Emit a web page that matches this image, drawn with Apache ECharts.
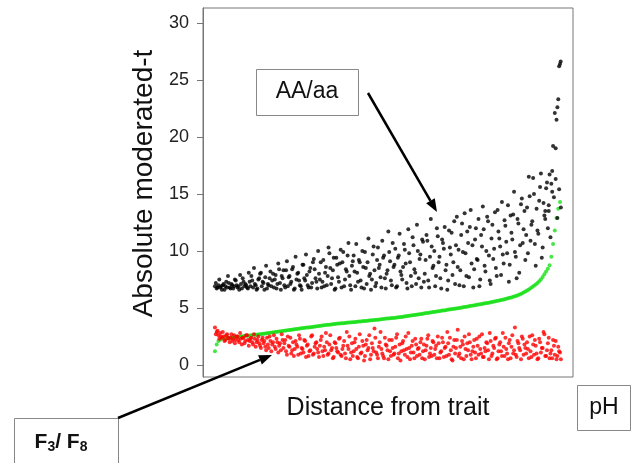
<!DOCTYPE html>
<html>
<head>
<meta charset="utf-8">
<script src="https://cdn.jsdelivr.net/npm/echarts@6/dist/echarts.min.js"></script>
<style>html,body{margin:0;padding:0;background:#fff}#c{width:636px;height:463px}</style>
</head>
<body>
<div id="c"></div>
<script>
// Rank of each gene along "Distance from trait" is its index in the arrays
// (second arrays sit half a rank later).
var blackT = [
6.9,6.7,7.0,6.8,6.6,7.1,6.9,6.8,7.2,6.7,7.0,6.9,7.4,6.8,6.6,7.1,7.6,6.9,7.0,6.7,
7.3,7.8,6.8,7.1,6.6,7.5,8.0,6.9,7.2,7.7,6.7,7.0,8.2,7.4,6.8,7.9,7.1,8.4,6.6,7.6,
7.0,8.3,6.9,7.8,7.3,8.6,6.7,7.5,8.1,7.0,6.6,8.8,7.4,7.9,6.8,8.5,7.2,9.3,7.6,6.7,
8.0,9.0,7.3,6.9,8.6,7.8,9.8,7.1,8.3,6.6,9.4,7.7,8.9,6.8,9.9,7.5,8.2,10.7,7.0,8.7,
9.6,6.9,8.1,9.2,7.4,10.0,6.7,8.5,9.0,7.8,6.6,9.7,8.3,7.2,10.3,8.8,6.8,9.4,7.6,8.0,
11.7,9.1,7.0,8.6,10.2,6.9,9.6,8.2,7.5,10.6,8.9,6.7,9.8,7.8,11.2,8.4,7.1,10.0,9.3,6.8,
10.8,8.0,11.4,7.4,9.5,10.4,8.7,6.9,12.0,9.0,7.6,11.0,10.2,8.3,6.6,11.8,9.7,7.9,12.6,10.5,
8.6,7.0,11.4,9.9,13.3,7.8,10.7,12.1,8.9,6.8,11.0,9.3,12.8,7.5,10.4,11.9,8.2,13.0,9.6,7.1,
12.3,10.2,8.5,13.6,11.1,7.9,9.7,12.7,10.8,14.0,8.8,11.6,13.2,9.9,7.6,12.4,10.5,14.6,11.9,9.2,
13.8,16.5,10.9,12.6,15.0,8.7,11.8,14.4,16.8,10.3,13.1,15.5,12.0,16.7,15.9,19.2,22.1,21.5,23.3,26.4
];
var blackT2 = [
7.2,6.8,7.5,6.9,7.0,6.6,7.3,7.8,6.8,7.1,6.7,7.5,7.0,6.9,7.9,6.7,7.3,7.1,6.8,8.1,
6.9,7.4,8.5,7.0,6.7,7.6,8.1,7.3,6.6,8.7,7.1,7.6,6.9,8.0,7.5,6.7,8.9,7.2,7.8,8.3,
6.8,9.1,7.7,7.1,8.4,6.6,9.5,8.0,7.4,6.9,8.8,7.6,9.7,7.0,8.2,6.8,9.0,8.4,7.3,10.0,
7.5,6.8,9.2,8.1,7.0,10.3,8.5,7.6,9.4,6.7,8.8,7.3,10.1,9.0,6.9,8.4,9.6,7.8,6.6,9.1,
8.2,10.6,7.3,9.0,6.8,8.6,9.9,7.1,11.1,8.0,7.5,10.4,6.9,9.2,8.5,7.7,10.9,9.6,6.7,8.3,
9.9,7.4,10.7,8.8,6.8,9.4,11.5,7.9,8.6,10.1,7.2,11.9,9.0,6.9,10.5,8.1,12.3,7.6,9.7,11.0,
7.3,9.2,10.9,6.8,12.8,8.5,10.0,7.8,11.3,9.5,6.7,10.7,12.1,8.8,7.4,10.3,11.6,9.0,7.1,13.0,
10.1,8.3,12.4,6.9,9.8,11.7,7.7,13.6,10.5,8.4,12.0,9.2,6.9,11.4,13.9,8.7,10.0,12.6,7.4,11.1,
9.3,13.4,7.8,11.7,10.4,14.3,8.9,12.2,9.8,7.3,13.1,11.0,15.2,9.5,12.8,8.1,14.1,10.7,13.5,11.4,
9.8,14.8,12.3,16.4,10.6,13.7,11.5,15.6,9.4,14.2,12.8,16.0,13.5,11.2,17.0,14.7,16.3,12.9,15.4,13.8
];
var blackTailRank = [190.5,192.5,194.5,196.5,197.5,198.5,199.4];
var blackTailT    = [13.5,14.0,15.2,19.0,22.6,26.2,26.6];

var redT = [
3.3,2.9,2.6,2.8,2.4,2.5,2.2,2.7,2.3,2.4,2.1,2.6,2.2,2.5,2.0,2.3,2.4,1.9,2.6,2.2,
2.1,2.4,1.8,2.3,2.0,2.5,1.7,2.2,1.9,1.6,2.4,1.5,2.1,1.8,2.6,1.4,2.0,1.7,1.3,2.2,
1.9,1.2,2.5,1.6,1.0,2.0,1.4,1.8,0.9,2.3,1.5,1.1,2.1,1.7,0.8,1.3,2.6,1.0,1.9,1.4,
0.7,2.2,1.2,1.6,2.8,0.9,1.8,1.3,0.6,2.0,1.5,1.1,2.4,0.8,1.7,1.0,2.9,1.4,0.5,1.9,
1.2,2.3,0.7,1.6,1.0,2.1,0.4,1.8,1.3,2.6,0.9,1.5,3.2,1.1,0.6,2.0,1.4,0.8,2.4,1.7,
0.5,1.2,2.2,0.9,1.6,2.7,1.0,0.4,1.9,1.3,2.5,0.7,1.5,1.1,2.1,0.6,1.8,1.4,0.9,2.3,
1.2,0.5,1.7,2.6,1.0,0.8,2.0,1.4,0.6,1.9,1.1,2.4,0.7,1.6,2.9,0.9,1.3,0.4,2.2,1.5,
3.1,1.0,0.6,1.8,2.5,0.8,1.3,2.0,0.5,1.6,1.1,2.3,0.9,1.4,2.7,0.7,1.2,1.9,0.5,2.1,
1.0,1.5,2.4,0.6,1.8,1.2,2.8,0.8,1.4,0.5,2.2,1.6,1.0,3.3,0.7,1.9,1.3,2.5,0.9,1.5,
2.0,0.6,1.2,2.6,0.9,1.7,0.5,2.3,1.1,1.5,2.7,0.8,1.9,0.6,1.3,2.2,0.9,0.5,1.6,1.1
];
var redT2 = [
2.7,3.0,2.3,2.5,2.9,2.1,2.6,2.4,2.0,2.7,2.3,1.9,2.5,2.2,2.8,1.8,2.4,2.1,2.6,1.7,
2.3,2.0,2.7,1.6,2.2,1.9,1.5,2.4,2.1,1.3,1.8,2.5,1.2,2.0,1.6,2.3,1.1,1.9,2.7,1.5,
2.2,0.9,1.7,2.4,1.3,0.8,2.1,1.6,2.6,1.0,1.4,2.2,0.7,1.8,1.2,2.5,0.9,1.6,2.0,1.1,
1.7,2.5,0.8,1.3,2.0,1.0,2.6,1.5,0.7,1.9,1.2,2.3,0.9,1.4,2.1,0.6,1.7,2.5,1.1,0.8,
2.0,1.4,0.6,2.7,1.1,1.7,0.8,2.2,1.5,0.5,1.9,1.2,2.4,0.9,1.6,2.9,1.0,0.6,1.8,1.3,
2.2,0.8,1.5,1.0,2.4,0.6,1.8,1.2,2.1,0.9,1.4,2.8,0.5,1.7,1.1,2.3,0.8,1.5,2.0,0.6,
1.8,1.3,2.3,0.7,1.5,2.1,0.9,1.7,2.5,0.6,1.2,2.0,1.5,0.8,1.9,2.4,0.5,1.6,1.0,2.2,
0.8,1.6,2.1,0.5,1.4,1.9,2.7,0.9,1.2,2.2,0.6,1.7,2.5,1.0,0.7,1.5,2.0,1.3,2.8,0.8,
1.7,2.3,0.5,1.2,2.0,0.8,1.6,2.4,1.0,1.9,0.6,2.6,1.3,0.9,2.1,1.5,0.5,2.3,1.8,1.0,
1.4,2.5,0.7,1.8,2.2,1.0,0.6,2.0,1.5,2.9,0.8,1.3,2.4,1.0,0.6,1.7,2.1,0.8,1.2,0.5
];

var greenT = [
1.20,1.80,2.10,2.22,2.30,2.32,2.34,2.36,2.38,2.40,
2.41,2.43,2.45,2.47,2.48,2.50,2.52,2.54,2.56,2.57,
2.59,2.61,2.63,2.65,2.66,2.68,2.70,2.72,2.74,2.77,
2.79,2.81,2.83,2.85,2.88,2.90,2.92,2.94,2.96,2.99,
3.01,3.03,3.05,3.07,3.10,3.12,3.14,3.16,3.18,3.20,
3.22,3.24,3.26,3.28,3.30,3.32,3.34,3.36,3.38,3.40,
3.42,3.44,3.46,3.48,3.50,3.52,3.54,3.56,3.58,3.60,
3.61,3.63,3.64,3.66,3.67,3.69,3.70,3.72,3.73,3.75,
3.76,3.78,3.79,3.81,3.82,3.84,3.85,3.87,3.88,3.90,
3.92,3.93,3.95,3.97,3.98,4.00,4.02,4.03,4.05,4.07,
4.08,4.10,4.12,4.13,4.15,4.17,4.18,4.20,4.22,4.25,
4.27,4.29,4.32,4.34,4.36,4.39,4.41,4.43,4.46,4.48,
4.50,4.53,4.55,4.57,4.60,4.62,4.65,4.67,4.69,4.72,
4.74,4.77,4.79,4.81,4.84,4.86,4.88,4.91,4.93,4.95,
4.98,5.00,5.03,5.06,5.08,5.11,5.14,5.17,5.19,5.22,
5.25,5.28,5.31,5.33,5.36,5.39,5.42,5.44,5.47,5.50,
5.53,5.56,5.60,5.63,5.66,5.70,5.73,5.77,5.81,5.85,
5.89,5.93,5.98,6.03,6.08,6.14,6.20,6.27,6.35,6.44,
6.53,6.63,6.73,6.84,6.95,7.07,7.20,7.35,7.52,7.72,
7.95,8.20,8.45,8.75,9.50,10.60,11.80,12.90,13.70,14.30
];

var yTicks = [0,5,10,15,20,25,30];
var yTitle = 'Absolute moderated-t';
var xTitle = 'Distance from trait';
var labelAA = 'AA/aa';
var labelPH = 'pH';

function pairs(arr, off){ return arr.map(function(v,i){ return [i+(off||0),v]; }); }
var blackData = pairs(blackT).concat(pairs(blackT2,0.5))
  .concat(blackTailRank.map(function(r,i){ return [r, blackTailT[i]]; }));
var redData = pairs(redT).concat(pairs(redT2,0.5));

var chart = echarts.init(document.getElementById('c'), null, {renderer:'canvas'});

function arrow(x1,y1,x2,y2){
  var a = Math.atan2(y2-y1, x2-x1), L = 13, W = 5;
  var bx = x2 - L*Math.cos(a), by = y2 - L*Math.sin(a);
  var px = -Math.sin(a)*W, py = Math.cos(a)*W;
  return [
    {type:'line', shape:{x1:x1,y1:y1,x2:bx,y2:by}, style:{stroke:'#000', lineWidth:2.5}},
    {type:'polygon', shape:{points:[[x2,y2],[bx+px,by+py],[bx-px,by-py]]}, style:{fill:'#000'}}
  ];
}

var font = '"Liberation Sans", Arial, sans-serif';
var graphics = [
  {type:'rect', shape:{x:256.5,y:69.5,width:102,height:46}, style:{fill:'#fff', stroke:'#888', lineWidth:1}},
  {type:'text', x:307, y:92, style:{text:labelAA, font:'23px '+font, fill:'#111', textAlign:'center', textVerticalAlign:'middle'}},
  {type:'rect', shape:{x:577.5,y:385.5,width:53,height:45}, style:{fill:'#fff', stroke:'#888', lineWidth:1}},
  {type:'text', x:604, y:408, style:{text:labelPH, font:'23px '+font, fill:'#111', textAlign:'center', textVerticalAlign:'middle'}},
  {type:'rect', shape:{x:14.5,y:418.5,width:104,height:60}, style:{fill:'#fff', stroke:'#888', lineWidth:1}},
  {type:'text', x:61, y:443, style:{
    text:'{b|F}{s|3}{b|/ F}{s|8}', textAlign:'center', textVerticalAlign:'middle',
    rich:{
      b:{fontFamily:font, fontSize:21, fontWeight:'bold', fill:'#111', verticalAlign:'top'},
      s:{fontFamily:font, fontSize:14, fontWeight:'bold', fill:'#111', verticalAlign:'top', padding:[9,0,0,0]}
    }}}
].concat(arrow(368,93,437,212)).concat(arrow(118,418,272,355));

chart.setOption({
  animation:false,
  backgroundColor:'#fff',
  grid:{left:203, right:63, top:8, bottom:86, show:true, borderColor:'#777', borderWidth:1, backgroundColor:'transparent'},
  xAxis:{
    type:'value', min:-6.9, max:206.5,
    name:xTitle, nameLocation:'middle', nameGap:19,
    nameTextStyle:{fontFamily:font, fontSize:25, color:'#111'},
    axisLine:{show:false}, axisTick:{show:false}, axisLabel:{show:false}, splitLine:{show:false}
  },
  yAxis:{
    type:'value', min:-1.05, max:31.3,
    name:yTitle, nameLocation:'middle', nameGap:44, nameRotate:90,
    nameTextStyle:{fontFamily:font, fontSize:28, color:'#111', padding:[0,0,0,18]},
    axisLine:{show:true, onZero:false, lineStyle:{color:'#777', width:1}},
    axisTick:{show:true, length:6, inside:false, customValues:yTicks, lineStyle:{color:'#777'}},
    axisLabel:{show:true, customValues:yTicks, margin:14, fontFamily:font, fontSize:18, color:'#222'},
    splitLine:{show:false}
  },
  series:[
    {type:'scatter', data:blackData, symbolSize:4, itemStyle:{color:'#000'}, z:3},
    {type:'scatter', data:pairs(greenT), symbolSize:4, itemStyle:{color:'#17e017'}, z:2},
    {type:'scatter', data:redData, symbolSize:4, itemStyle:{color:'#ff0000'}, z:4}
  ],
  graphic:graphics
});
</script>
</body>
</html>
